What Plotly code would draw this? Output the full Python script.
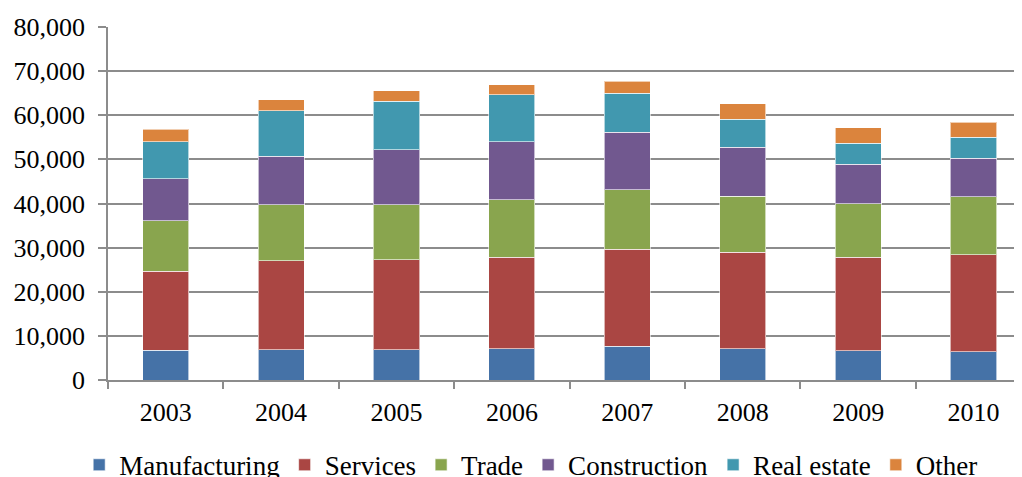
import plotly.graph_objects as go

years = ["2003", "2004", "2005", "2006", "2007", "2008", "2009", "2010"]

# segment sizes
manufacturing = [6700, 6900, 6900, 7100, 7600, 7100, 6600, 6400]
services = [18000, 20100, 20300, 20700, 22000, 21900, 21200, 22000]
trade = [11400, 12700, 12500, 13100, 13500, 12700, 12200, 13100]
construction = [9500, 11000, 12500, 13100, 13100, 11000, 8900, 8700]
real_estate = [8400, 10300, 11000, 10700, 8800, 6400, 4700, 4800]
other = [2800, 2500, 2300, 2200, 2700, 3500, 3600, 3400]

series = [
    ("Manufacturing", manufacturing, "#4572A7"),
    ("Services", services, "#AA4643"),
    ("Trade", trade, "#89A54E"),
    ("Construction", construction, "#71588F"),
    ("Real estate", real_estate, "#4198AF"),
    ("Other", other, "#DB843D"),
]

FONT = "Liberation Serif, Times New Roman, serif"
GRID = "#8c8c8c"

fig = go.Figure()
for name, vals, color in series:
    fig.add_trace(go.Bar(
        x=years, y=vals, name=name,
        marker=dict(color=color, line=dict(color="rgba(255,255,255,0.6)", width=1)),
    ))

# page body has an 8px margin, so the figure is sized to the visible area
fig.update_layout(
    barmode="stack",
    bargap=0.6,
    width=1014,
    height=469,
    paper_bgcolor="white",
    plot_bgcolor="white",
    font=dict(family=FONT, size=26, color="black"),
    margin=dict(l=100, r=0, t=19, b=97, autoexpand=False),
    legend=dict(
        orientation="h",
        x=0.463, xanchor="center",
        y=-0.172, yanchor="top",
        font=dict(size=27),
        itemwidth=30,
        traceorder="normal",
    ),
)

fig.update_xaxes(
    type="category",
    range=[-0.5, 7.42],
    showline=True, linecolor=GRID, linewidth=1.5,
    ticks="outside", tickson="boundaries", ticklen=7, tickcolor=GRID, tickwidth=1.5,
    ticklabelstandoff=8,
    showgrid=False,
)
fig.update_yaxes(
    range=[0, 80000],
    dtick=10000,
    tickformat=",d",
    showline=True, linecolor=GRID, linewidth=1.5,
    showgrid=True, gridcolor=GRID, gridwidth=1.5,
    zeroline=False,
    ticks="outside", ticklen=8, tickcolor=GRID, tickwidth=1.5,
    ticklabelstandoff=8,
)

fig.write_html("out.html")
